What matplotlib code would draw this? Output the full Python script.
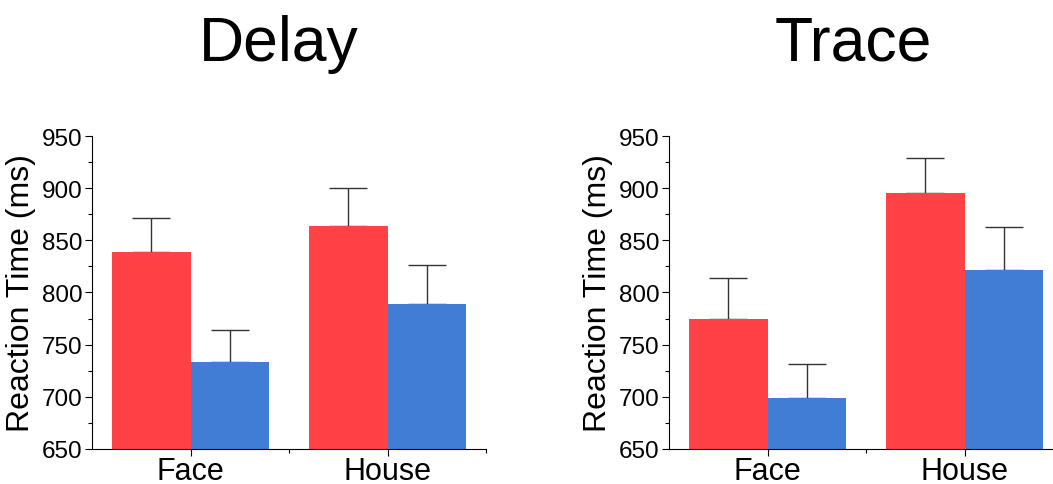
import matplotlib
matplotlib.use('Agg')
import matplotlib.pyplot as plt
import numpy as np

plt.rcParams['font.family'] = ['Liberation Sans', 'DejaVu Sans']

groups = ['Face', 'House']
delay_red = [839, 864]
delay_red_err = [32, 36]
delay_blue = [733, 789]
delay_blue_err = [31, 37]
trace_red = [775, 895]
trace_red_err = [39, 34]
trace_blue = [699, 822]
trace_blue_err = [32, 41]
titles = ['Delay', 'Trace']
yticks = [650, 700, 750, 800, 850, 900, 950]

red = '#FF4245'
blue = '#427DD5'

fig = plt.figure(figsize=(10.53, 4.85), dpi=100)
ax1 = fig.add_axes([92 / 1053, 35 / 485, 394 / 1053, 313 / 485])
ax2 = fig.add_axes([669 / 1053, 35 / 485, 394 / 1053, 313 / 485])

data = [(delay_red, delay_red_err, delay_blue, delay_blue_err),
        (trace_red, trace_red_err, trace_blue, trace_blue_err)]

x = np.arange(len(groups))
w = 0.4
for ax, (r, re, b, be) in zip([ax1, ax2], data):
    ax.bar(x - w / 2, r, w, color=red, zorder=2)
    ax.bar(x + w / 2, b, w, color=blue, zorder=2)
    ax.errorbar(x - w / 2, r, yerr=[np.zeros(len(r)), re], fmt='none',
                ecolor='#333333', elinewidth=1, capsize=14, capthick=1, zorder=1)
    ax.errorbar(x + w / 2, b, yerr=[np.zeros(len(b)), be], fmt='none',
                ecolor='#333333', elinewidth=1, capsize=14, capthick=1, zorder=1)
    ax.set_ylim(650, 950)
    ax.set_xlim(-0.5, 1.5)
    ax.set_yticks(yticks)
    ax.set_yticks(np.arange(675, 950, 50), minor=True)
    ax.set_xticks(x)
    ax.set_xticklabels(groups, fontsize=22)
    ax.set_xticks([0.5, 1.5], minor=True)
    ax.tick_params(axis='y', labelsize=17.5, length=5, width=0.8, pad=2)
    ax.tick_params(axis='y', which='minor', length=3, width=0.8)
    ax.tick_params(axis='x', length=5, width=0.8, pad=0)
    ax.tick_params(axis='x', which='minor', length=3, width=0.8)
    ax.spines['top'].set_visible(False)
    ax.spines['right'].set_visible(False)
    ax.spines['left'].set_linewidth(0.8)
    ax.spines['bottom'].set_linewidth(0.8)
    ax.set_ylabel('Reaction Time (ms)', fontsize=23, labelpad=4)

fig.text(279 / 1053, 1 - 44 / 485, titles[0], fontsize=45, ha='center', va='center')
fig.text(853 / 1053, 1 - 44 / 485, titles[1], fontsize=45, ha='center', va='center')

fig.savefig('out.png', dpi=100)
